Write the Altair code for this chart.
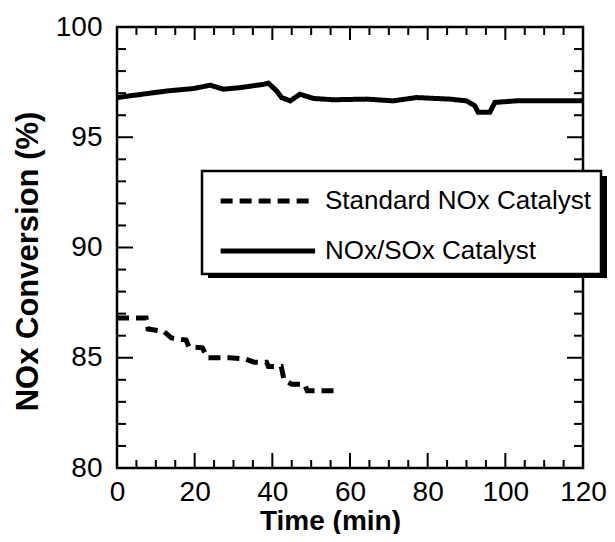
import altair as alt
import pandas as pd

series_names = ["Standard NOx Catalyst", "NOx/SOx Catalyst"]

std_time = [0, 7.5, 8, 12, 14, 17.8, 18.5, 22, 23.3, 29, 33, 35.3, 38.5, 39, 42.3, 43, 45, 48.3, 49, 56.5]
std_conv = [86.8, 86.8, 86.3, 86.2, 85.9, 85.8, 85.5, 85.45, 85.0, 85.0, 84.95, 84.8, 84.8, 84.6, 84.6, 84.0, 83.8, 83.8, 83.5, 83.5]

sox_time = [0, 3.4, 12.9, 19.7, 24, 27.4, 31.7, 37.7, 39, 41.1, 42.4, 44.6, 47.1, 50.6, 55.7, 64.3, 71.1, 77.1, 85.7, 90, 92.1, 93, 96, 97.3, 102.8, 120]
sox_conv = [96.80, 96.88, 97.10, 97.21, 97.36, 97.18, 97.25, 97.40, 97.45, 97.10, 96.80, 96.65, 96.95, 96.76, 96.70, 96.73, 96.65, 96.80, 96.73, 96.65, 96.43, 96.13, 96.13, 96.58, 96.65, 96.65]

x_major = [0, 20, 40, 60, 80, 100, 120]
x_minor = [5, 10, 15, 25, 30, 35, 45, 50, 55, 65, 70, 75, 85, 90, 95, 105, 110, 115]
y_major = [80, 85, 90, 95, 100]
y_minor = [81, 82, 83, 84, 86, 87, 88, 89, 91, 92, 93, 94, 96, 97, 98, 99]

W, H = 466, 441
FONT = "Liberation Sans"

xs = alt.Scale(domain=[0, 120], nice=False, zero=False)
ys = alt.Scale(domain=[80, 100], nice=False, zero=False)
x_axis = alt.Axis(values=x_major, title="Time (min)", labelPadding=10,
                  labelFlush=False, labelOverlap=False,
                  titleX=213, titleY=61, titleBaseline="alphabetic",
                  titleFontSize=28, format="d")
y_axis = alt.Axis(values=y_major, title="NOx Conversion (%)", labelPadding=15,
                  labelFlush=False, labelOverlap=False,
                  titlePadding=11, titleY=234, titleFontSize=31, format="d")

df = pd.DataFrame({
    "time": std_time + sox_time,
    "conv": std_conv + sox_conv,
    "series": [series_names[0]] * len(std_time) + [series_names[1]] * len(sox_time),
})

shadow = alt.Chart(alt.Data(values=[{}])).mark_rect(color="black").encode(
    x=alt.value(91), x2=alt.value(490), y=alt.value(149), y2=alt.value(251)
)

lines = alt.Chart(df).mark_line(color="black", strokeWidth=5).encode(
    x=alt.X("time:Q", scale=xs, axis=x_axis),
    y=alt.Y("conv:Q", scale=ys, axis=y_axis),
    strokeDash=alt.StrokeDash(
        "series:N",
        scale=alt.Scale(domain=series_names, range=[[12, 7], [1, 0]]),
        legend=alt.Legend(title=None, orient="none", legendX=85, legendY=144,
                          symbolType="M -0.65 0 H 4.75", symbolSize=1225, symbolStrokeWidth=5,
                          symbolStrokeColor="black", labelFont=FONT, labelFontSize=26,
                          labelColor="black", labelOffset=73, labelLimit=0, rowPadding=17,
                          padding=10, strokeColor="black", fillColor="white"),
    ),
)

def ticks(values, field, side, length):
    d = pd.DataFrame({field: values})
    c = alt.Chart(d).mark_rule(color="black", strokeWidth=2)
    if side == "bottom":
        return c.encode(x=alt.X(f"{field}:Q", scale=xs, axis=x_axis), y=alt.value(H), y2=alt.value(H - length))
    if side == "top":
        return c.encode(x=alt.X(f"{field}:Q", scale=xs, axis=x_axis), y=alt.value(0), y2=alt.value(length))
    if side == "left":
        return c.encode(y=alt.Y(f"{field}:Q", scale=ys, axis=y_axis), x=alt.value(0), x2=alt.value(length))
    return c.encode(y=alt.Y(f"{field}:Q", scale=ys, axis=y_axis), x=alt.value(W), x2=alt.value(W - length))

tick_layers = [
    ticks(x_major, "time", "bottom", 15), ticks(x_minor, "time", "bottom", 8),
    ticks(x_major, "time", "top", 13), ticks(x_minor, "time", "top", 8),
    ticks(y_major, "conv", "left", 16), ticks(y_minor, "conv", "left", 9),
    ticks(y_major, "conv", "right", 16), ticks(y_minor, "conv", "right", 9),
]

chart = alt.layer(lines, shadow, *tick_layers).properties(
    width=W, height=H,
    autosize=alt.AutoSizeParams(type="none"),
    padding={"left": 109, "top": 19, "right": 24, "bottom": 66},
).configure_view(
    stroke="black", strokeWidth=2.5
).configure_axis(
    domain=False, ticks=False, grid=False,
    labelFont=FONT, labelFontSize=28, labelColor="black",
    titleFont=FONT, titleFontWeight="bold", titleColor="black",
).configure_legend(
    strokeWidth=2.5
)

chart.save("out.html", embed_options={"renderer": "svg", "actions": False})
